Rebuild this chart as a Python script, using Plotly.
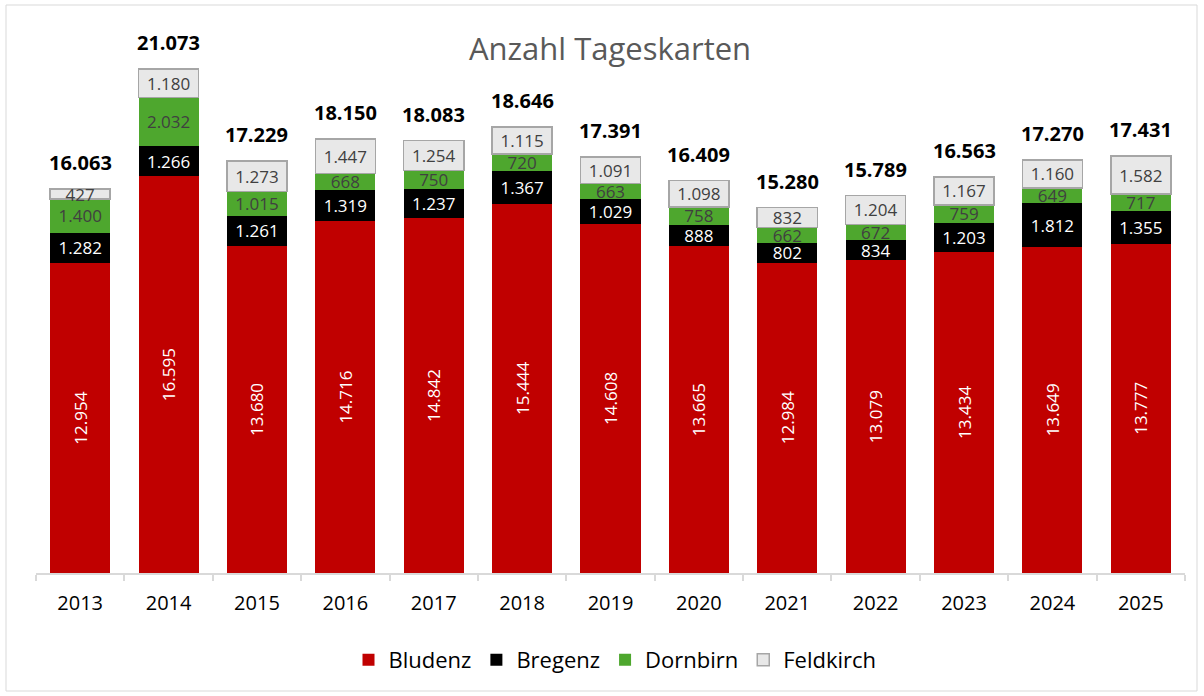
import plotly.graph_objects as go

years = ["2013", "2014", "2015", "2016", "2017", "2018", "2019", "2020", "2021", "2022", "2023", "2024", "2025"]
bludenz = [12954, 16595, 13680, 14716, 14842, 15444, 14608, 13665, 12984, 13079, 13434, 13649, 13777]
bregenz = [1282, 1266, 1261, 1319, 1237, 1367, 1029, 888, 802, 834, 1203, 1812, 1355]
dornbirn = [1400, 2032, 1015, 668, 750, 720, 663, 758, 662, 672, 759, 649, 717]
feldkirch = [427, 1180, 1273, 1447, 1254, 1115, 1091, 1098, 832, 1204, 1167, 1160, 1582]
totals = [16063, 21073, 17229, 18150, 18083, 18646, 17391, 16409, 15280, 15789, 16563, 17270, 17431]

FONT = "Open Sans"
W, H = 1204, 696
ml, mr, mt, mb = 36, 19, 47, 123
PW, PH = W - ml - mr, H - mt - mb

fig = go.Figure()

def add(name, vals, color, textcolor, size, angle=0, line=None):
    fig.add_trace(go.Bar(
        name=name, x=years, y=vals,
        marker=dict(color=color, line=line or dict(width=0)),
        texttemplate="%{y:,}", textposition="inside", insidetextanchor="middle",
        textangle=angle, cliponaxis=False,
        textfont=dict(family=FONT, size=size, color=textcolor),
        hoverinfo="skip",
    ))

add("Bludenz", bludenz, "#C00000", "white", 21, angle=-90)
add("Bregenz", bregenz, "#000000", "white", 17)
add("Dornbirn", dornbirn, "#4EA72E", "#404040", 17)
add("Feldkirch", feldkirch, "#E8E8E8", "#404040", 17, line=dict(color="#A6A6A6", width=1.5))

# category positions on the axis are the indices of the years
for i, t in enumerate(totals):
    fig.add_annotation(x=i, y=t, text="<b>%s</b>" % f"{t:,}".replace(",", "."),
                       showarrow=False, yanchor="bottom", yshift=11,
                       font=dict(family=FONT, size=20, color="black"))

# outer border
fig.add_shape(type="rect", xref="paper", yref="paper",
              x0=(6 - ml) / PW, x1=(1197 - ml) / PW,
              y0=-(691 - (H - mb)) / PH, y1=1 + (mt - 5) / PH,
              line=dict(color="#D9D9D9", width=1), layer="below")

fig.update_layout(
    width=W, height=H,
    barmode="stack", bargap=0.32,
    separators=",.",
    paper_bgcolor="white", plot_bgcolor="white",
    margin=dict(l=ml, r=mr, t=mt, b=mb, autoexpand=False),
    title=dict(text="Anzahl Tageskarten", x=(610) / W, xanchor="center",
               yref="container", y=1 - 49 / H, yanchor="middle",
               font=dict(family=FONT, size=31, color="#595959")),
    font=dict(family=FONT, color="black"),
    legend=dict(orientation="h", x=(615) / W, xref="container", xanchor="center", yref="container",
                y=1 - 660 / H, yanchor="middle",
                font=dict(family=FONT, size=22, color="black"), traceorder="normal"),
    uniformtext=dict(minsize=17, mode="show"),
    showlegend=True,
)
fig.update_xaxes(type="category", showline=True, linecolor="#D9D9D9", linewidth=1.5, automargin=False,
                 ticks="outside", tickson="boundaries", ticklen=6, tickcolor="#D9D9D9", tickwidth=1.5,
                 ticklabelstandoff=11,
                 tickfont=dict(family=FONT, size=20, color="black"), showgrid=False, tickangle=0)
fig.update_yaxes(range=[0, 22000], visible=False, showgrid=False, automargin=False)

fig.write_html("out.html", config={"displayModeBar": False},
               post_script="document.body.style.margin='0';")
